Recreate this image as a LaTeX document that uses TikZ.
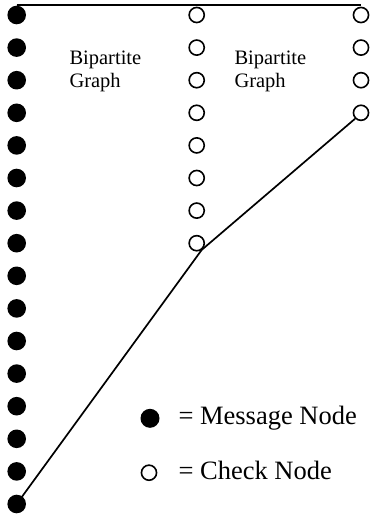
\documentclass[tikz,border=0pt]{standalone}
\usepackage{fontspec}
\setmainfont{Liberation Serif}
\begin{document}
\begin{tikzpicture}[x=1pt,y=1pt,
  msg/.style={circle,fill=black,inner sep=0pt,minimum size=18.6pt},
  chk/.style={circle,draw=black,line width=1.6pt,inner sep=0pt,minimum size=15.1pt},
  lbl/.style={anchor=base west,font=\fontsize{20.5}{24}\selectfont,inner sep=0pt},
  legend/.style={anchor=base west,font=\fontsize{26.5}{30}\selectfont,inner sep=0pt},
  wire/.style={line width=1.7pt,line join=miter}]
\useasboundingbox (0,0) rectangle (371,-518);

% message nodes (left column)
\foreach \i in {1,...,16}
  \node[msg] (m\i) at (16.7,{-15-32.6*(\i-1)}) {};
% check nodes (middle column)
\foreach \i in {1,...,8}
  \node[chk] (c\i) at (196.7,{-15-32.6*(\i-1)}) {};
% check nodes (right column)
\foreach \i in {1,...,4}
  \node[chk] (r\i) at (361,{-15-32.6*(\i-1)}) {};

% labels
\node[lbl] (b1a) at (69.3,-65) {Bipartite};
\node[lbl] (b1b) at (69.3,-87.7) {Graph};
\node[lbl] (b2a) at (234.3,-65) {Bipartite};
\node[lbl] (b2b) at (234.3,-87.7) {Graph};

% connectors
\draw[wire,line width=2pt] (m1.north) -- (m1.north -| r1);
\coordinate (kink) at (c8.-53);
\draw[wire] (m16.center) -- (kink) -- (r4.south west);

% legend
\node[msg,minimum size=19pt] (lm) at (150,-418.3) {};
\node[legend] (lmt) at (178.3,-424.5) {= Message Node};
\node[chk] (lc) at (149,-472.7) {};
\node[legend] (lct) at (178.3,-479.3) {= Check Node};
\end{tikzpicture}
\end{document}
